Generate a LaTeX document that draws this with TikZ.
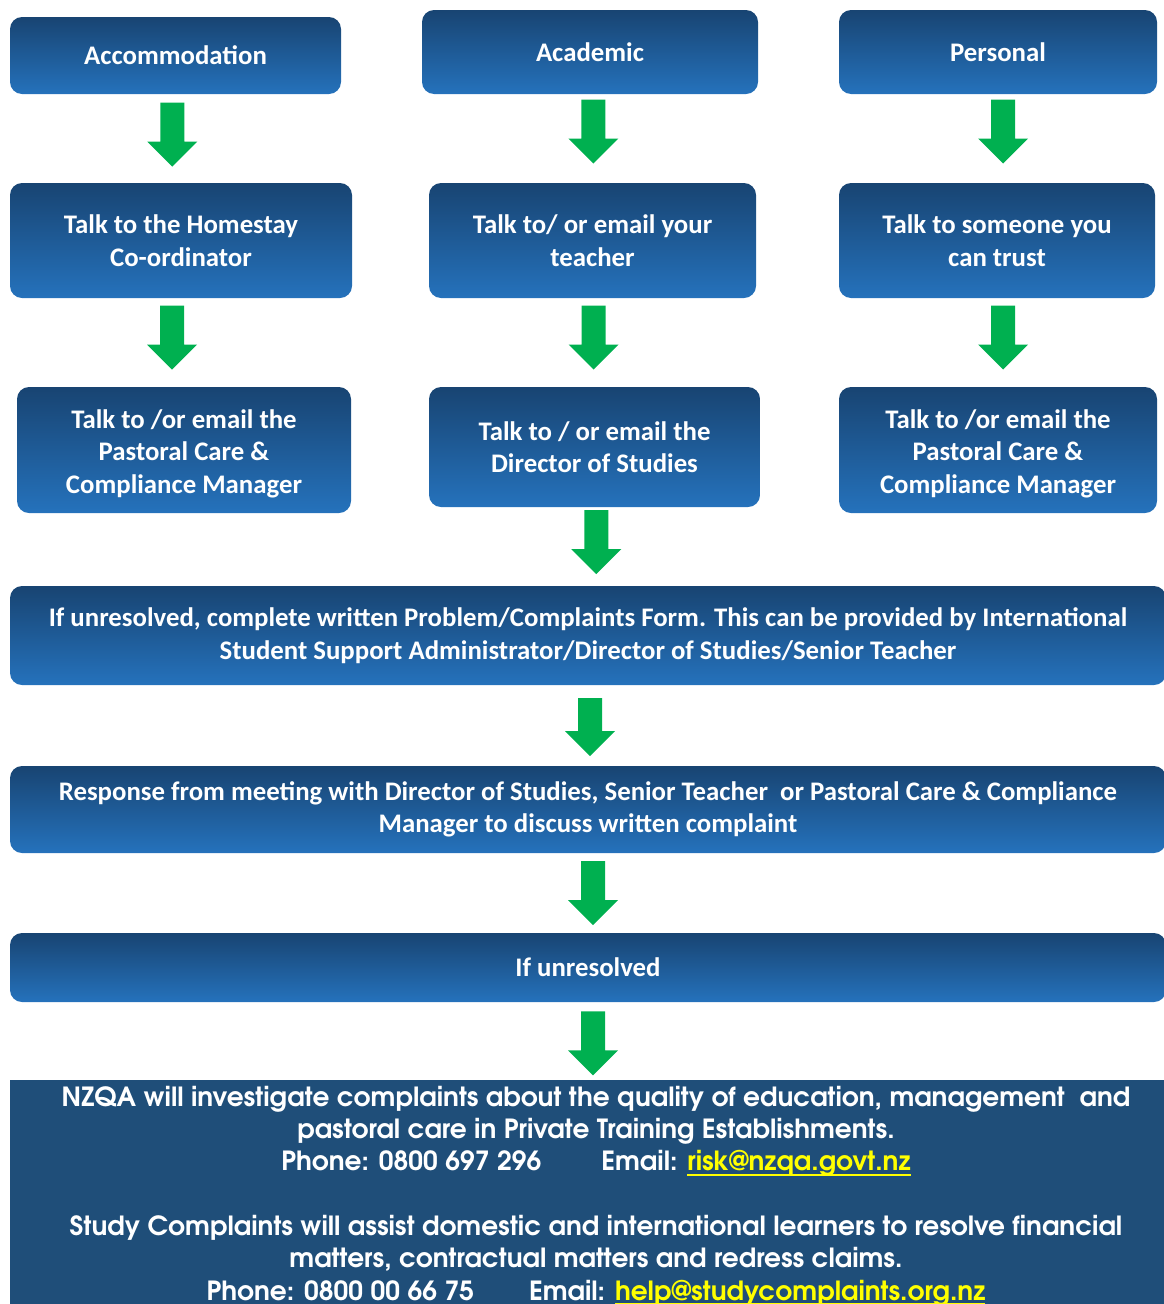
\documentclass[tikz,border=0pt]{standalone}
\usepackage{fontspec}
\setmainfont{Carlito}
\newfontfamily\gothicfont{TeX Gyre Adventor}
\usetikzlibrary{calc}

\definecolor{boxtop}{RGB}{24,68,114}
\definecolor{boxbot}{RGB}{37,114,188}
\definecolor{nzqablue}{RGB}{31,78,121}
\definecolor{arrowgreen}{RGB}{0,176,80}
\definecolor{linkyellow}{RGB}{255,255,0}

\newcommand{\weblink}[1]{\textcolor{linkyellow}{\setbox0\hbox{#1}\rlap{\rule[-5pt]{\wd0}{2.4pt}}\box0}}

\tikzset{
  flowbox/.style={rounded corners=12pt, top color=boxtop, bottom color=boxbot,
    text=white, align=center, inner sep=0pt,
    font=\bfseries\fontsize{26.8}{32.5}\selectfont},
  threeline/.style={text height=92pt, text depth=6pt},
  infobox/.style={fill=nzqablue, text=white, align=center, inner sep=0pt,
    font=\gothicfont\bfseries\fontsize{26.4}{32.3}\selectfont}
}

% green block arrow between two boxes: [length] from, to, shift
\newcommand{\flowarrow}[4][64]{%
  \path ($(#2.south)!0.5!(#3.north)$) ++(#4) coordinate (mid);
  \fill[arrowgreen] ($(mid)+(-12,-#1/2)$) -- ($(mid)+(12,-#1/2)$)
    -- ($(mid)+(12,#1/2-25)$) -- ($(mid)+(25,#1/2-25)$)
    -- ($(mid)+(0,#1/2)$) -- ($(mid)+(-25,#1/2-25)$)
    -- ($(mid)+(-12,#1/2-25)$) -- cycle;
}

\begin{document}
\begin{tikzpicture}[x=1pt,y=-1pt]
  \useasboundingbox (0,0) rectangle (1164,1304);
  \clip (0,0) rectangle (1164,1304);

  % first row
  \node[flowbox, minimum width=331pt, minimum height=77pt] (acc) at (175.5,55.5) {Accommodation};
  \node[flowbox, minimum width=336pt, minimum height=84pt] (acad) at (590,52) {Academic};
  \node[flowbox, minimum width=318pt, minimum height=84pt] (pers) at (998,52) {Personal};

  % second row
  \node[flowbox, minimum width=342pt, minimum height=115pt] (homestay) at (181,240.5) {Talk to the Homestay\\Co-ordinator};
  \node[flowbox, minimum width=327pt, minimum height=115pt] (teacher) at (592.5,240.5) {Talk to/ or email your\\teacher};
  \node[flowbox, minimum width=316pt, minimum height=115pt] (trust) at (997,240.5) {Talk to someone you\\can trust};

  % third row
  \node[flowbox, threeline, minimum width=334pt, minimum height=126pt] (pcleft) at (184,450) {Talk to /or email the\\Pastoral Care \&\\Compliance Manager};
  \node[flowbox, minimum width=331pt, minimum height=120pt] (dos) at (594.5,447) {Talk to / or email the\\Director of Studies};
  \node[flowbox, threeline, minimum width=318pt, minimum height=126pt] (pcright) at (998,450) {Talk to /or email the\\Pastoral Care \&\\Compliance Manager};

  % wide boxes
  \node[flowbox, minimum width=1156pt, minimum height=99pt] (form) at (588,635.5)
    {If unresolved, complete written Problem/Complaints Form. This can be provided by International\\Student Support Administrator/Director of Studies/Senior Teacher};
  \node[flowbox, minimum width=1156pt, minimum height=87pt] (response) at (588,809.5)
    {Response from meeting with Director of Studies, Senior Teacher\ \ or Pastoral Care \& Compliance\\Manager to discuss written complaint};
  \node[flowbox, minimum width=1156pt, minimum height=69pt] (unres) at (588,967.5) {If unresolved};

  \node[infobox, minimum width=1172pt, minimum height=233pt] (nzqa) at (596,1196)
    {NZQA will investigate complaints about the quality of education, management\ \ and\\
     pastoral care in Private Training Establishments.\\
     Phone: 0800 697 296\hspace{60pt}Email: \weblink{risk@nzqa.govt.nz}\\[32.3pt]
     Study Complaints will assist domestic and international learners to resolve financial\\
     matters, contractual matters and redress claims.\\
     Phone: 0800 00 66 75\hspace{55pt}Email: \weblink{help@studycomplaints.org.nz}};

  % arrows
  \flowarrow{acc}{homestay}{-6,-4}
  \flowarrow{acad}{teacher}{2,-7}
  \flowarrow{pers}{trust}{5.5,-7}
  \flowarrow{homestay}{pcleft}{-10.5,-5}
  \flowarrow{teacher}{dos}{0,-5}
  \flowarrow{trust}{pcright}{5.5,-5}
  \flowarrow{dos}{form}{5,-4.5}
  \flowarrow[58]{form}{response}{2,1.5}
  \flowarrow{response}{unres}{5,0}
  \flowarrow{unres}{nzqa}{1,2.5}
\end{tikzpicture}
\end{document}
